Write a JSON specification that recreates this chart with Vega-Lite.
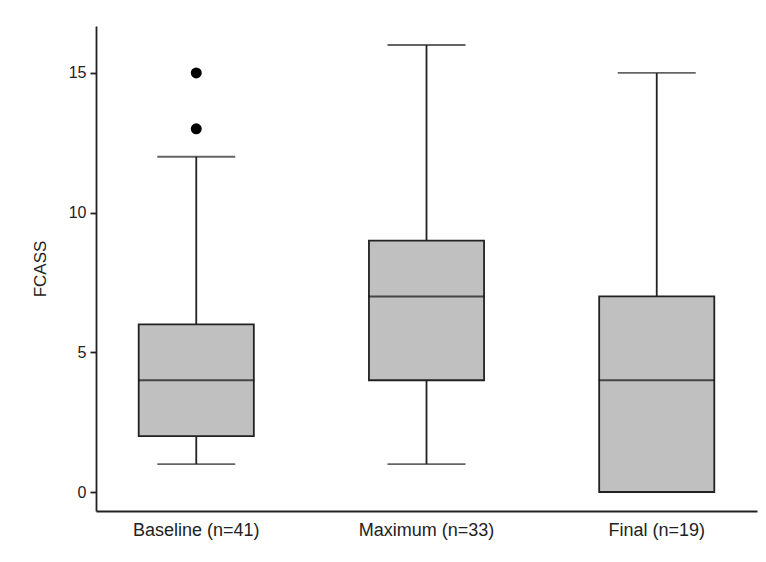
{
  "$schema": "https://vega.github.io/schema/vega-lite/v6.json",
  "width": 661,
  "height": 485,
  "autosize": {"type": "none"},
  "padding": {"left": 96, "top": 26, "right": 9, "bottom": 51},
  "background": "white",
  "config": {
    "view": {"stroke": null},
    "font": "Liberation Sans",
    "axis": {"grid": false, "domainColor": "#222", "domainWidth": 1.8, "tickColor": "#222", "tickWidth": 1.8, "labelColor": "#222", "titleColor": "#222", "labelFont": "Liberation Sans", "titleFont": "Liberation Sans", "labelFontSize": 16, "titleFontSize": 17, "titleFontWeight": "normal"}
  },
  "datasets": {
    "boxes": [
      {"group": "Baseline (n=41)", "min": 1, "q1": 2, "median": 4, "q3": 6, "max": 12},
      {"group": "Maximum (n=33)", "min": 1, "q1": 4, "median": 7, "q3": 9, "max": 16},
      {"group": "Final (n=19)", "min": 0, "q1": 0, "median": 4, "q3": 7, "max": 15}
    ],
    "outliers": [
      {"group": "Baseline (n=41)", "value": 13},
      {"group": "Baseline (n=41)", "value": 15}
    ]
  },
  "encoding": {
    "x": {
      "field": "group", "type": "nominal",
      "sort": ["Baseline (n=41)", "Maximum (n=33)", "Final (n=19)"],
      "scale": {"domain": ["Baseline (n=41)", "Maximum (n=33)", "Final (n=19)"], "paddingInner": 0.5, "paddingOuter": 0.1855},
      "axis": {"title": null, "labelAngle": 0, "ticks": false, "labelPadding": 10, "labelFontSize": 18}
    }
  },
  "layer": [
    {
      "data": {"name": "boxes"},
      "mark": {"type": "rule", "color": "#222", "strokeWidth": 1.8},
      "encoding": {
        "y": {"field": "min", "type": "quantitative", "scale": {"domain": [-0.68, 16.68], "nice": false, "zero": false},
          "axis": {"title": "FCASS", "values": [0, 5, 10, 15], "tickSize": 6, "labelPadding": 4, "titlePadding": 19}},
        "y2": {"field": "max"}
      }
    },
    {
      "data": {"name": "boxes"},
      "mark": {"type": "tick", "color": "#222", "size": 78, "thickness": 1.8},
      "encoding": {"y": {"field": "min", "type": "quantitative"}}
    },
    {
      "data": {"name": "boxes"},
      "mark": {"type": "tick", "color": "#222", "size": 78, "thickness": 1.8},
      "encoding": {"y": {"field": "max", "type": "quantitative"}}
    },
    {
      "data": {"name": "boxes"},
      "mark": {"type": "bar", "fill": "#c0c0c0", "stroke": "#222", "strokeWidth": 1.8},
      "encoding": {
        "y": {"field": "q1", "type": "quantitative"},
        "y2": {"field": "q3"}
      }
    },
    {
      "data": {"name": "boxes"},
      "mark": {"type": "tick", "color": "#111", "size": 116, "thickness": 2},
      "encoding": {"y": {"field": "median", "type": "quantitative"}}
    },
    {
      "data": {"name": "outliers"},
      "mark": {"type": "circle", "color": "black", "opacity": 1, "size": 120},
      "encoding": {"y": {"field": "value", "type": "quantitative"}}
    }
  ]
}
